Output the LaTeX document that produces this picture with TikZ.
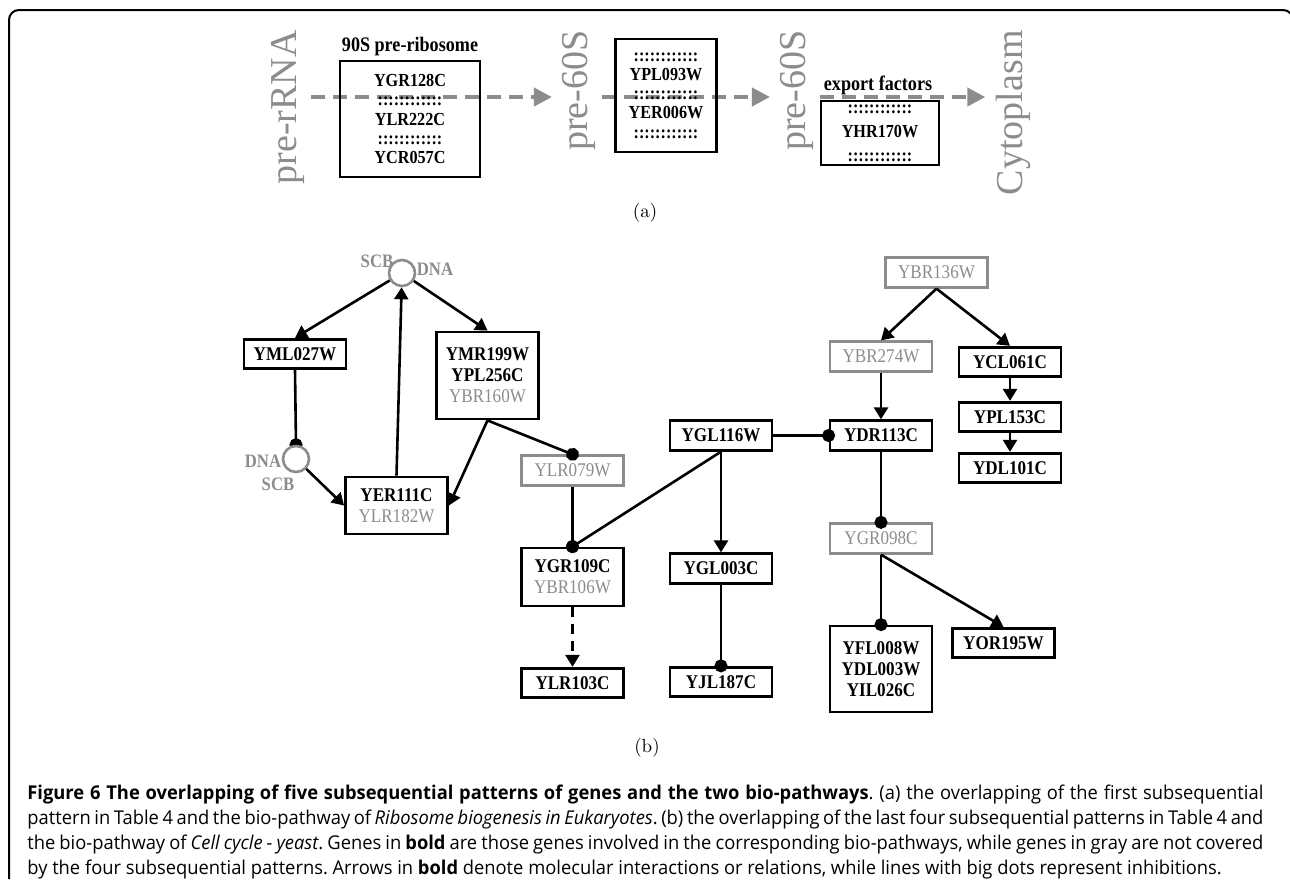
\documentclass[tikz,border=0pt]{standalone}
\usepackage{fontspec}
\newfontfamily\genefont[FakeStretch=0.88]{Liberation Serif}
\newfontfamily\stagefont{Liberation Serif}
\newfontfamily\capfont[FakeStretch=0.965]{Open Sans}
\usetikzlibrary{arrows.meta}
\usetikzlibrary{backgrounds}
\definecolor{geneGray}{gray}{0.55}
\newcommand{\grayg}[1]{\textcolor{geneGray}{\mdseries #1}}
\newcommand{\colons}{::::::::::::}
\tikzset{
  gene/.style={draw, line width=1.4pt, fill=white, minimum width=51pt, minimum height=14.75pt,
    inner sep=1pt, align=center, font=\genefont\bfseries\fontsize{9.7}{10.5}\selectfont},
  grayGene/.style={gene, draw=geneGray, text=geneGray, font=\genefont\fontsize{9.7}{10.5}\selectfont},
  site/.style={circle, draw=geneGray, line width=1.3pt, fill=white, minimum size=13pt, inner sep=0pt},
  siteLabel/.style={text=geneGray, inner sep=0pt, font=\genefont\bfseries\fontsize{9.5}{10}\selectfont},
  act/.style={line width=1.3pt, -{Triangle[length=6pt,width=7pt]}},
  inh/.style={line width=1.3pt, -{Circle[length=6.5pt]}, shorten >=-3.25pt},
  stage/.style={rotate=90, anchor=east, text=geneGray, inner sep=1pt, font=\stagefont\fontsize{19}{19}\selectfont},
  cluster/.style={draw, line width=1.4pt, inner sep=0pt, align=center, font=\genefont\bfseries\fontsize{9.2}{9.6}\selectfont},
  clusterLabel/.style={inner sep=0pt, font=\genefont\bfseries\fontsize{10.3}{11}\selectfont},
  flow/.style={geneGray, line width=2pt, dash pattern=on 7pt off 4pt, shorten <=2pt, shorten >=4pt,
    -{Triangle[length=9pt,width=9pt]}},
  panel/.style={inner sep=0pt, font=\fontsize{9.5}{11}\selectfont},
  caption/.style={inner sep=0pt},
}
\newcommand{\capsize}{\capfont\fontsize{9.5}{12.4}\selectfont\frenchspacing}

\begin{document}
\begin{tikzpicture}[x=0.5pt,y=-0.5pt]
  \useasboundingbox (0,0) rectangle (1290,879);
  \draw[line width=1pt, rounded corners=5pt] (9,879) -- (9,10) -- (1293,10) -- (1293,60);

  % (a) ribosome biogenesis
  \coordinate (lane) at (0,97);
  \node[stage] (prerna) at (288,28) {pre-rRNA};
  \node[stage] (pre60a) at (579,28) {pre-60S};
  \node[stage] (pre60b) at (797,28) {pre-60S};
  \node[stage] (cyto) at (1013,28) {Cytoplasm};
  \node[cluster, minimum width=70pt, minimum height=58pt] (rib90s) at (410,119)
    {YGR128C\\\colons\\YLR222C\\\colons\\YCR057C};
  \node[clusterLabel] (rib90sLabel) at (410,47) {90S pre-ribosome};
  \node[cluster, minimum width=50.5pt, minimum height=56.5pt] (nucleo) at (666,95.5)
    {\colons\\YPL093W\\\colons\\YER006W\\\colons};
  \node[cluster, minimum width=59pt, minimum height=32pt] (export) at (880,133)
    {\colons\\[2.4pt]YHR170W\\[2.4pt]\colons};
  \node[clusterLabel] (exportLabel) at (878,85) {export factors};
  \begin{scope}[on background layer]
    \draw[flow] (prerna.south |- lane) -- (pre60a.north |- lane);
    \draw[flow] (pre60a.south |- lane) -- (pre60b.north |- lane);
    \draw[flow] (pre60b.south |- lane) -- (cyto.north |- lane);
  \end{scope}
  \node[panel] (panelA) at (645,213) {(a)};

  % (b) cell cycle
  \node[site] (dna1) at (402,273) {};
  \node[siteLabel] (scb1) at (377,261) {SCB};
  \node[siteLabel] (dnaLab1) at (435,269) {DNA};
  \node[site] (dna2) at (296,459) {};
  \node[siteLabel] (dnaLab2) at (263,461) {DNA};
  \node[siteLabel] (scb2) at (278,484) {SCB};
  \node[gene] (yml027w) at (295,354) {YML027W};
  \node[gene, minimum height=43.5pt] (ymr199w) at (487.5,375.5) {YMR199W\\YPL256C\\\grayg{YBR160W}};
  \node[gene, minimum height=28.5pt] (yer111c) at (396.5,505.5) {YER111C\\\grayg{YLR182W}};
  \node[grayGene] (ylr079w) at (572.5,470.5) {YLR079W};
  \node[gene, minimum height=29pt] (ygr109c) at (572.5,577) {YGR109C\\\grayg{YBR106W}};
  \node[gene] (ylr103c) at (572.5,683) {YLR103C};
  \node[gene] (ygl116w) at (721,435.5) {YGL116W};
  \node[gene] (ygl003c) at (721,568.5) {YGL003C};
  \node[gene] (yjl187c) at (721,682) {YJL187C};
  \node[gene] (ydr113c) at (881,435.5) {YDR113C};
  \node[grayGene] (ybr274w) at (881,356.5) {YBR274W};
  \node[grayGene] (ybr136w) at (936.5,272.5) {YBR136W};
  \node[gene] (ycl061c) at (1010,362) {YCL061C};
  \node[gene] (ypl153c) at (1010,417) {YPL153C};
  \node[gene] (ydl101c) at (1010,468) {YDL101C};
  \node[grayGene] (ygr098c) at (881,538.5) {YGR098C};
  \node[gene, minimum height=43pt] (yfl008w) at (881,669) {YFL008W\\YDL003W\\YIL026C};
  \node[gene] (yor195w) at (1003.5,643) {YOR195W};

  \begin{scope}[on background layer]
    \draw[inh] (yml027w.south) -- (dna2.north);
  \end{scope}
  \draw[act] (dna1) -- (yml027w.north);
  \draw[act] (dna1) -- (ymr199w.north);
  \draw[act] (yer111c.north) -- (dna1);
  \draw[act] (dna2) -- (yer111c.west);
  \draw[act] (ymr199w.south) -- (yer111c.east);
  \draw[inh] (ymr199w.south) -- (ylr079w.north);
  \draw[inh] (ylr079w.south) -- (ygr109c.north);
  \draw[inh] (ygl116w.south) -- (ygr109c.north);
  \draw[act, dash pattern=on 5pt off 3.5pt] (ygr109c.south) -- (ylr103c.north);
  \draw[act] (ygl116w.south) -- (ygl003c.north);
  \draw[inh] (ygl003c.south) -- (yjl187c.north);
  \draw[inh] (ygl116w.east) -- (ydr113c.west);
  \draw[act] (ybr136w.south) -- (ybr274w.north);
  \draw[act] (ybr136w.south) -- (ycl061c.north);
  \draw[act] (ybr274w.south) -- (ydr113c.north);
  \draw[act] (ycl061c.south) -- (ypl153c.north);
  \draw[act] (ypl153c.south) -- (ydl101c.north);
  \draw[inh] (ydr113c.south) -- (ygr098c.north);
  \draw[inh] (ygr098c.south) -- (yfl008w.north);
  \draw[act] (ygr098c.south) -- (yor195w.north);
  \node[panel] (panelB) at (647,748) {(b)};

  \node[caption, anchor=north west] (caption) at (27,785)
    {\parbox[t]{618pt}{\capsize
    {\bfseries Figure 6 The overlapping of five subsequential patterns of genes and the two bio-pathways}. (a) the overlapping of the first subsequential\linebreak
    pattern in Table 4 and the bio-pathway of \textit{Ribosome biogenesis in Eukaryotes}. (b) the overlapping of the last four subsequential patterns in Table 4 and\linebreak
    the bio-pathway of \textit{Cell cycle - yeast}. Genes in \textbf{bold} are those genes involved in the corresponding bio-pathways, while genes in gray are not covered\linebreak
    by the four subsequential patterns. Arrows in \textbf{bold} denote molecular interactions or relations, while lines with big dots represent inhibitions.\par}};
\end{tikzpicture}
\end{document}
